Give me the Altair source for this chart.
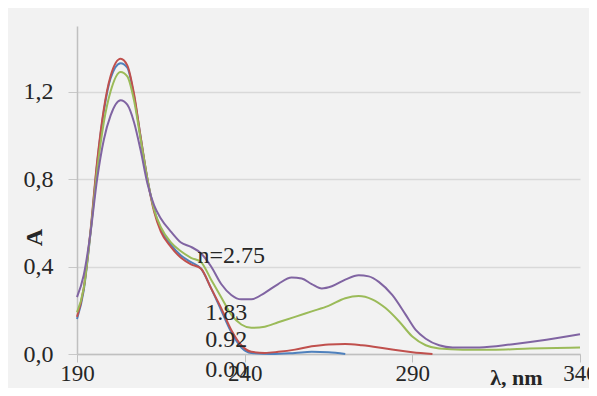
import altair as alt
import pandas as pd

# wavelength (nm) and absorbance for each series
wl_000 = [190, 192, 194, 196, 198, 200, 203, 205, 207, 209, 211, 213, 215, 218, 221, 224, 227, 230, 233, 236, 239, 242, 248, 255, 260, 265, 270]
a_000 = [0.16, 0.29, 0.55, 0.87, 1.11, 1.26, 1.33, 1.31, 1.18, 0.99, 0.80, 0.66, 0.57, 0.50, 0.45, 0.42, 0.39, 0.30, 0.20, 0.10, 0.03, 0.005, 0.0, 0.005, 0.01, 0.008, 0.0]

wl_092 = [190, 192, 194, 196, 198, 200, 203, 205, 207, 209, 211, 213, 215, 218, 221, 224, 227, 230, 233, 236, 239, 242, 246, 250, 255, 260, 265, 270, 275, 280, 285, 290, 296]
a_092 = [0.17, 0.30, 0.56, 0.88, 1.12, 1.27, 1.35, 1.32, 1.19, 0.99, 0.80, 0.65, 0.56, 0.49, 0.44, 0.41, 0.39, 0.30, 0.21, 0.11, 0.04, 0.01, 0.005, 0.01, 0.02, 0.035, 0.044, 0.046, 0.04, 0.03, 0.018, 0.008, 0.0]

wl_183 = [190, 192, 194, 196, 198, 200, 203, 205, 207, 209, 211, 213, 215, 218, 221, 224, 227, 230, 233, 236, 239, 242, 246, 250, 255, 260, 265, 270, 274, 278, 282, 286, 290, 294, 298, 305, 315, 325, 340]
a_183 = [0.19, 0.30, 0.55, 0.84, 1.06, 1.20, 1.29, 1.27, 1.16, 0.98, 0.80, 0.66, 0.58, 0.51, 0.47, 0.44, 0.42, 0.34, 0.26, 0.18, 0.135, 0.12, 0.125, 0.145, 0.17, 0.195, 0.22, 0.255, 0.265, 0.25, 0.21, 0.15, 0.08, 0.04, 0.025, 0.02, 0.02, 0.025, 0.03]

wl_275 = [190, 192, 194, 196, 198, 200, 203, 205, 207, 209, 211, 213, 215, 218, 221, 224, 227, 230, 233, 236, 239, 242, 246, 250, 254, 257, 260, 263, 266, 270, 274, 277, 280, 284, 288, 291, 294, 298, 302, 310, 320, 330, 340]
a_275 = [0.26, 0.36, 0.55, 0.80, 0.98, 1.09, 1.16, 1.14, 1.06, 0.93, 0.78, 0.68, 0.62, 0.56, 0.51, 0.49, 0.46, 0.40, 0.32, 0.27, 0.25, 0.25, 0.28, 0.32, 0.35, 0.345, 0.32, 0.30, 0.31, 0.34, 0.36, 0.355, 0.33, 0.27, 0.18, 0.11, 0.07, 0.04, 0.03, 0.03, 0.045, 0.065, 0.09]

series_names = ["0.00", "0.92", "1.83", "2.75"]
series_colors = ["#4F81BD", "#C0504D", "#9BBB59", "#8064A2"]

label_texts = ["n=2.75", "1.83", "0.92", "0.00"]
label_wl = [236, 234.5, 234.5, 234.5]
label_a = [0.448, 0.187, 0.064, -0.073]

x_ticks = [190, 240, 290, 340]
y_ticks = [0, 0.4, 0.8, 1.2]

rows = []
for name, wl, a in zip(series_names, [wl_000, wl_092, wl_183, wl_275], [a_000, a_092, a_183, a_275]):
    for w, v in zip(wl, a):
        rows.append({"series": name, "wl": w, "A": v})
df = pd.DataFrame(rows)
labels = pd.DataFrame({"text": label_texts, "wl": label_wl, "A": label_a})

FONT = "Times New Roman, Liberation Serif, serif"
FS = 24

x_scale = alt.Scale(domain=[190, 340], nice=False, zero=False)
y_scale = alt.Scale(domain=[0, 1.5], nice=False)

lines = alt.Chart(df).mark_line(strokeWidth=2, interpolate="monotone").encode(
    x=alt.X("wl:Q", scale=x_scale,
            axis=alt.Axis(values=x_ticks, title="λ, nm", grid=False, format="d",
                          labelFont=FONT, labelFontSize=23, labelColor="#262626",
                          labelFlush=False, labelOverlap=False, labelBound=False,
                          labelPadding=0, tickSize=8, tickColor="#c0c0c0",
                          domainColor="#c0c0c0", domainWidth=1.5,
                          titleFont=FONT, titleFontSize=22, titleFontWeight="bold",
                          titleColor="#262626", titleX=439, titleY=23,
                          titleBaseline="middle", titleAlign="center")),
    y=alt.Y("A:Q", scale=y_scale,
            axis=alt.Axis(values=y_ticks, title="A",
                          labelExpr="replace(format(datum.value, '.1f'), '.', ',')",
                          labelFont=FONT, labelFontSize=FS, labelColor="#262626",
                          labelFlush=False, labelOverlap=False,
                          labelPadding=15, tickSize=9, tickColor="#c8c8c8",
                          domainColor="#c0c0c0", domainWidth=1.5,
                          grid=True, gridColor="#d9d9d9", gridWidth=1.5,
                          titleFont=FONT, titleFontSize=FS, titleFontWeight="bold",
                          titleColor="#262626", titleX=-43, titleY=211,
                          titleBaseline="middle", titleAlign="center", titleAngle=-90)),
    color=alt.Color("series:N", scale=alt.Scale(domain=series_names, range=series_colors), legend=None),
)

texts = alt.Chart(labels).mark_text(font=FONT, fontSize=FS, color="#262626",
                                    align="center", baseline="middle").encode(
    x=alt.X("wl:Q", scale=x_scale),
    y=alt.Y("A:Q", scale=y_scale),
    text="text:N",
)

chart = alt.layer(lines, texts).properties(
    width=503, height=328,
    autosize=alt.AutoSizeParams(type="none"),
    padding={"left": 69, "top": 18, "right": 9, "bottom": 34},
    background="#f2f2f2",
).configure_view(stroke=None)

chart.save("out.html", embed_options={"renderer": "svg", "actions": False})
